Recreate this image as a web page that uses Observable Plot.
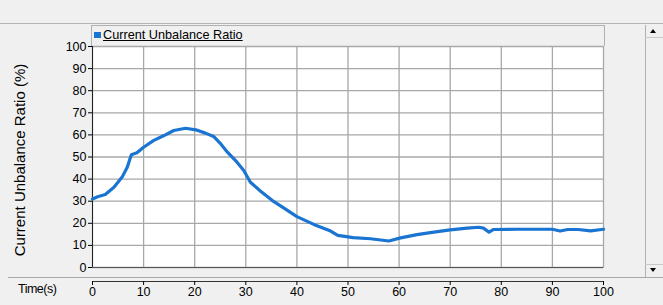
<!DOCTYPE html>
<html>
<head>
<meta charset="utf-8">
<script src="https://cdn.jsdelivr.net/npm/d3@7"></script>
<script src="https://cdn.jsdelivr.net/npm/@observablehq/plot@0.6"></script>
<style>
  html, body { margin: 0; padding: 0; width: 663px; height: 305px; overflow: hidden; background: #f0f0f0; font-family: "Liberation Sans", Arial, sans-serif; }
  #wrap { position: relative; width: 663px; height: 305px; }
  .abs { position: absolute; box-sizing: border-box; }
  #chart { position: absolute; left: 0; top: 0; }
</style>
</head>
<body>
<div id="wrap">
  <div class="abs" style="left:0;top:23px;width:663px;height:1px;background:#b4b4b4"></div>
  <div class="abs" style="left:8px;top:277px;width:655px;height:1px;background:#a8a8a8"></div>
  <div class="abs" style="left:91px;top:25px;width:514px;height:21px;border:1px solid #b0b0b0;border-bottom:none;background:#f0f0f0"></div>
  <div class="abs" style="left:94px;top:32px;width:7px;height:6px;background:#1a75d2"></div>
  <div class="abs" style="left:103px;top:28px;font-size:12.7px;line-height:14px;color:#000;text-decoration:underline">Current Unbalance Ratio</div>
  <div class="abs" style="left:645px;top:25px;width:18px;height:252px;border-left:1px solid #b0b0b0;background:#f0f0f0"></div>
  <div class="abs" style="left:645px;top:37px;width:18px;height:1px;background:#c8c8c8"></div>
  <div class="abs" style="left:645px;top:264px;width:18px;height:1px;background:#c8c8c8"></div>
  <div class="abs" style="left:650px;top:29px;width:0;height:0;border-left:3.5px solid transparent;border-right:3.5px solid transparent;border-bottom:4px solid #000"></div>
  <div class="abs" style="left:650px;top:268px;width:0;height:0;border-left:3.5px solid transparent;border-right:3.5px solid transparent;border-top:4px solid #000"></div>
  <div class="abs" style="left:18px;top:282px;font-size:12.5px;letter-spacing:-0.5px;color:#000">Time(s)</div>
  <div id="chart"></div>
</div>
<script>
const time  = [0, 1, 2.5, 4.2, 5.8, 6.8, 7.6, 8.7, 10, 12, 14, 15.9, 18.2, 20.2, 22.1, 23.7, 25, 26.4, 28, 29.6, 30.9, 32.9, 35.2, 37.4, 40, 43.3, 46.6, 48, 51, 54.4, 58, 60.3, 63.5, 66.8, 70, 73.3, 75.6, 76.5, 77.6, 78.5, 83, 90, 91.5, 93, 95, 97.5, 100];
const ratio = [31, 32, 33, 36.3, 40.9, 45.4, 51, 51.9, 54.4, 57.5, 59.7, 62, 63, 62.3, 60.8, 59.3, 56.2, 52.2, 48.4, 43.9, 38.6, 34.5, 30.3, 27, 23, 19.5, 16.5, 14.5, 13.5, 13, 12, 13.4, 14.9, 16, 17, 17.8, 18.2, 17.8, 16, 17.2, 17.3, 17.3, 16.5, 17.2, 17.2, 16.6, 17.3];
const xTicks = [0, 10, 20, 30, 40, 50, 60, 70, 80, 90, 100];
const yTicks = [0, 10, 20, 30, 40, 50, 60, 70, 80, 90, 100];
const yLabel = "Current Unbalance Ratio (%)";

const data = time.map((t, i) => ({t, v: ratio[i]}));

const chart = Plot.plot({
  width: 663,
  height: 305,
  marginLeft: 92,
  marginRight: 60,
  marginTop: 46,
  marginBottom: 38,
  style: {background: "transparent", fontFamily: "Liberation Sans, Arial, sans-serif", fontSize: "12px", color: "#000"},
  x: {domain: [0, 100]},
  y: {domain: [0, 100]},
  marks: [
    Plot.frame({fill: "white", stroke: "#a0a0a0"}),
    Plot.gridX(xTicks, {stroke: "#a8a8a8", strokeOpacity: 1, strokeWidth: 1.3}),
    Plot.gridY(yTicks, {stroke: "#a8a8a8", strokeOpacity: 1, strokeWidth: 1.3}),
    Plot.ruleX([0], {stroke: "#222"}),
    Plot.ruleY([0], {stroke: "#555"}),
    Plot.axisY(yTicks, {tickSize: 4, tickPadding: 2, label: null, fontSize: 12.5}),
    Plot.text([yLabel], {frameAnchor: "left", textAnchor: "middle", dx: -72, dy: 3, rotate: -90, fontSize: 15, fill: "#000"}),
    Plot.line(data, {x: "t", y: "v", stroke: "#1a75d2", strokeWidth: 3.2, strokeLinejoin: "round"}),
    Plot.ruleY([0], {dy: 14, stroke: "#333"}),
    Plot.axisX(xTicks, {tickSize: 4, tickPadding: 2, dy: 14, label: null, fontSize: 12.5})
  ]
});
document.getElementById("chart").appendChild(chart);
</script>
</body>
</html>
